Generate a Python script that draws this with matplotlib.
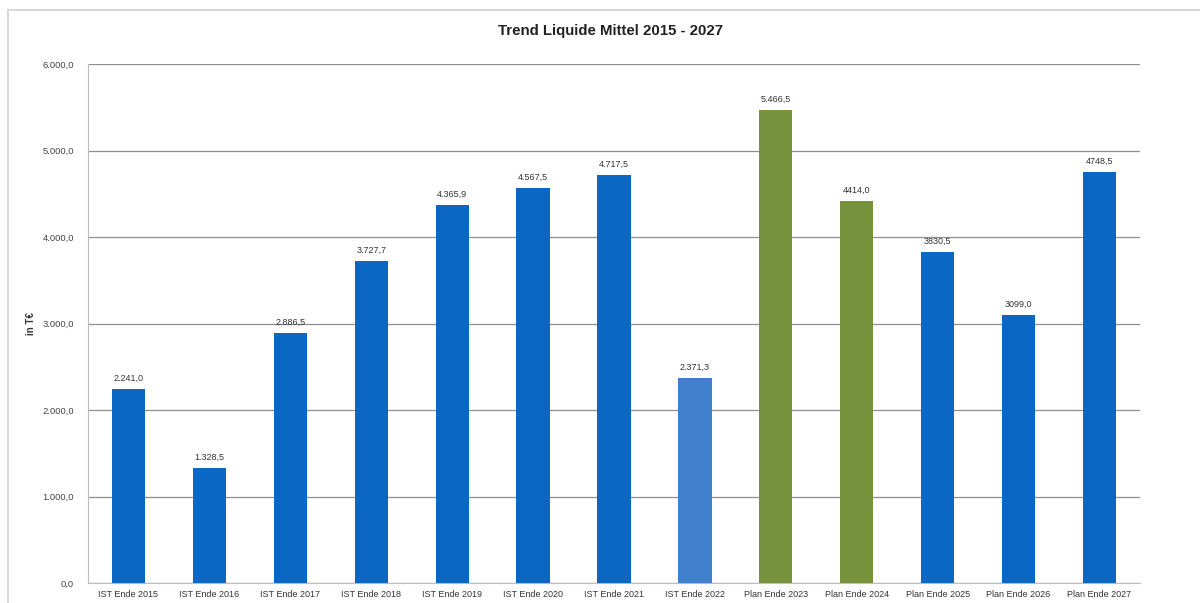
import matplotlib.pyplot as plt
from matplotlib.patches import Rectangle

plt.rcParams['font.family'] = ['Liberation Sans', 'DejaVu Sans']

categories = ['IST Ende 2015', 'IST Ende 2016', 'IST Ende 2017', 'IST Ende 2018',
              'IST Ende 2019', 'IST Ende 2020', 'IST Ende 2021', 'IST Ende 2022',
              'Plan Ende 2023', 'Plan Ende 2024', 'Plan Ende 2025', 'Plan Ende 2026',
              'Plan Ende 2027']
values = [2241.0, 1328.5, 2886.5, 3727.7, 4365.9, 4567.5, 4717.5, 2371.3,
          5466.5, 4414.0, 3830.5, 3099.0, 4748.5]
value_labels = ['2.241,0', '1.328,5', '2.886,5', '3.727,7', '4.365,9', '4.567,5',
                '4.717,5', '2.371,3', '5.466,5', '4414,0', '3830,5', '3099,0', '4748,5']
bar_colors = ['#0a68c4'] * 7 + ['#3f7fcb'] + ['#76923c'] * 2 + ['#0a68c4'] * 3
yticks = [0, 1000, 2000, 3000, 4000, 5000, 6000]
ytick_labels = ['0,0', '1.000,0', '2.000,0', '3.000,0', '4.000,0', '5.000,0', '6.000,0']

fig = plt.figure(figsize=(12, 6.03), dpi=100)
ax = fig.add_axes([88 / 1200, (603 - 583) / 603, (1140 - 88) / 1200, (583 - 64) / 603])

x = range(len(categories))
bars = ax.bar(x, values, width=0.41, color=bar_colors, zorder=3)
for b, lab in zip(bars, value_labels):
    ax.text(b.get_x() + b.get_width() / 2, b.get_height() + 70, lab,
            ha='center', va='bottom', fontsize=6.5, color='#333333')

ax.set_xlim(-0.5, len(categories) - 0.5)
ax.set_ylim(0, 6000)
ax.set_yticks(yticks)
ax.set_yticklabels(ytick_labels, fontsize=6.8, color='#444444')
ax.set_xticks(list(x))
ax.set_xticklabels(categories, fontsize=6.5, color='#333333')
ax.tick_params(axis='x', length=0, pad=5)
ax.tick_params(axis='y', length=0, pad=10)
ax.grid(axis='y', color='#8f8f8f', linewidth=0.9, zorder=0)
for s in ['top', 'right']:
    ax.spines[s].set_visible(False)
ax.spines['left'].set_color('#bdbdbd')
ax.spines['bottom'].set_color('#bdbdbd')

ax.set_ylabel('in T€', fontsize=7, fontweight='bold', color='#333333')
ax.yaxis.set_label_coords(-0.049, 0.5)
fig.text(610 / 1200, 1 - 31 / 603, 'Trend Liquide Mittel 2015 - 2027',
         ha='center', va='center', fontsize=10.8, fontweight='bold', color='#222222')

fig.patches.append(Rectangle((8 / 1200, -0.01), 1.2, 1 - 10 / 603 + 0.01,
                             transform=fig.transFigure, fill=False,
                             edgecolor='#d8d8d8', linewidth=1.5))

fig.savefig('out.png', dpi=100)
